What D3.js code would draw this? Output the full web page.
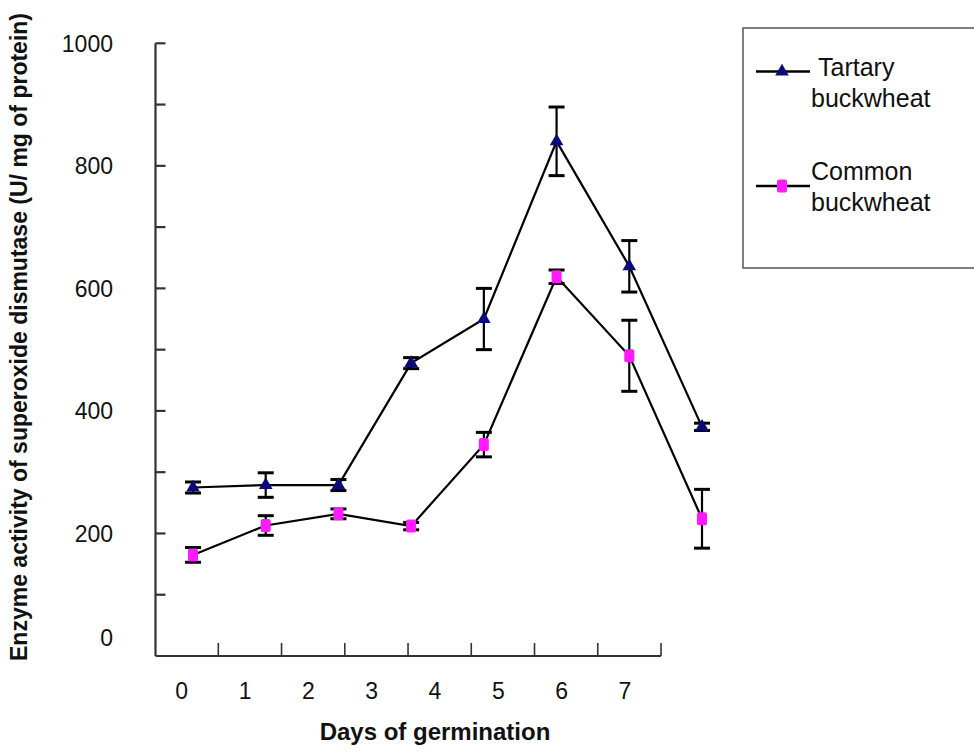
<!DOCTYPE html>
<html>
<head>
<meta charset="utf-8">
<script src="https://d3js.org/d3.v7.min.js"></script>
<style>
  body { margin: 0; background: #fff; }
  svg text { font-family: "Liberation Sans", Arial, sans-serif; fill: #111; }
  .tick-label { font-size: 23px; }
  .title { font-weight: bold; }
  .legend text { font-size: 25px; }
</style>
</head>
<body>
<svg id="chart" width="974" height="755"></svg>
<script>
// data
var days = [0, 1, 2, 3, 4, 5, 6, 7];
var tartary = [275, 279, 279, 478, 550, 840, 636, 374];
var tartarySd = [9, 20, 9, 9, 50, 56, 42, 6];
var common = [165, 213, 232, 212, 345, 619, 490, 224];
var commonSd = [12, 16, 8, 6, 20, 11, 58, 48];
var yTicks = [0, 200, 400, 600, 800, 1000];
var yMinor = [100, 300, 500, 700, 900];

var svg = d3.select("#chart");

var y = d3.scaleLinear().domain([0, 1000]).range([656, 43.3]);
// data points and the printed axis are slightly out of step in the source
var x = d3.scaleLinear().domain([0, 7]).range([193, 702]);
var xLabel = d3.scaleLinear().domain([0, 7]).range([181.7, 625]);
var xTick = d3.scaleLinear().domain([0, 7]).range([218.3, 661]);
var axisX = 155.5;

// axes
var ax = svg.append("g").attr("stroke", "#333").attr("stroke-width", 2.2);
ax.append("line").attr("x1", axisX).attr("x2", axisX).attr("y1", y(1000)).attr("y2", y(0));
ax.append("line").attr("x1", axisX).attr("x2", xTick(7)).attr("y1", y(0)).attr("y2", y(0));
ax.selectAll(".ytk").data(yTicks.slice(1).concat(yMinor)).enter().append("line")
  .attr("x1", axisX).attr("x2", axisX + 10)
  .attr("y1", function(d) { return y(d); }).attr("y2", function(d) { return y(d); });
ax.selectAll(".xtk").data(days).enter().append("line")
  .attr("stroke-width", 1.6)
  .attr("x1", function(d) { return xTick(d); }).attr("x2", function(d) { return xTick(d); })
  .attr("y1", y(0)).attr("y2", y(0) - 13);

svg.selectAll(".ylab").data(yTicks).enter().append("text")
  .attr("class", "tick-label")
  .attr("text-anchor", "end")
  .attr("x", 113)
  .attr("y", function(d) { return d === 0 ? y(d) - 18 : y(d); })
  .attr("dy", "0.36em")
  .text(function(d) { return d; });

svg.selectAll(".xlab").data(days).enter().append("text")
  .attr("class", "tick-label")
  .attr("text-anchor", "middle")
  .attr("x", function(d) { return xLabel(d); })
  .attr("y", 699)
  .text(function(d) { return d; });

svg.append("text").attr("class", "title")
  .attr("text-anchor", "middle")
  .style("font-size", "24px")
  .attr("x", 435).attr("y", 740)
  .text("Days of germination");

svg.append("text").attr("class", "title")
  .attr("text-anchor", "middle")
  .style("font-size", "23px")
  .attr("transform", "translate(27,337) rotate(-90)")
  .text("Enzyme activity of superoxide dismutase (U/ mg of protein)");

// series
var line = d3.line().x(function(d) { return x(d[0]); }).y(function(d) { return y(d[1]); });

function series(vals, sd, marker) {
  var pts = days.map(function(d, i) { return [d, vals[i], sd[i]]; });
  var g = svg.append("g");
  g.append("path").datum(pts).attr("d", line)
    .attr("fill", "none").attr("stroke", "#000").attr("stroke-width", 2.2);
  var eb = g.selectAll(".eb").data(pts).enter().append("g")
    .attr("stroke", "#000").attr("stroke-width", 3);
  eb.append("line")
    .attr("x1", function(d) { return x(d[0]); }).attr("x2", function(d) { return x(d[0]); })
    .attr("y1", function(d) { return y(d[1] + d[2]); }).attr("y2", function(d) { return y(d[1] - d[2]); })
    .attr("stroke-width", 2.2);
  eb.append("line")
    .attr("x1", function(d) { return x(d[0]) - 8; }).attr("x2", function(d) { return x(d[0]) + 8; })
    .attr("y1", function(d) { return y(d[1] + d[2]); }).attr("y2", function(d) { return y(d[1] + d[2]); });
  eb.append("line")
    .attr("x1", function(d) { return x(d[0]) - 8; }).attr("x2", function(d) { return x(d[0]) + 8; })
    .attr("y1", function(d) { return y(d[1] - d[2]); }).attr("y2", function(d) { return y(d[1] - d[2]); });
  g.selectAll(".mk").data(pts).enter().append("g")
    .attr("transform", function(d) { return "translate(" + x(d[0]) + "," + y(d[1]) + ")"; })
    .each(function() { marker(d3.select(this)); });
}

function triangle(sel) {
  sel.append("path").attr("d", d3.symbol().type(d3.symbolTriangle).size(80)())
    .attr("fill", "#0b0b7a");
}
function square(sel) {
  sel.append("rect").attr("x", -5).attr("y", -6.5).attr("width", 10).attr("height", 13)
    .attr("rx", 2).attr("fill", "#ff1aff");
}

series(tartary, tartarySd, triangle);
series(common, commonSd, square);

// legend
var lg = svg.append("g").attr("class", "legend");
lg.append("rect").attr("x", 743).attr("y", 28).attr("width", 240).attr("height", 240)
  .attr("fill", "#fff").attr("stroke", "#555").attr("stroke-width", 1.5);
[[71.5, triangle, ["Tartary", "buckwheat"], 818, 76], [186, square, ["Common", "buckwheat"], 811, 180]]
  .forEach(function(e) {
    lg.append("line").attr("x1", 756).attr("x2", 810).attr("y1", e[0]).attr("y2", e[0])
      .attr("stroke", "#000").attr("stroke-width", 2.5);
    e[1](lg.append("g").attr("transform", "translate(782," + e[0] + ")"));
    lg.append("text").attr("x", e[3]).attr("y", e[4]).text(e[2][0]);
    lg.append("text").attr("x", 811).attr("y", e[4] + 31).text(e[2][1]);
  });
</script>
</body>
</html>
